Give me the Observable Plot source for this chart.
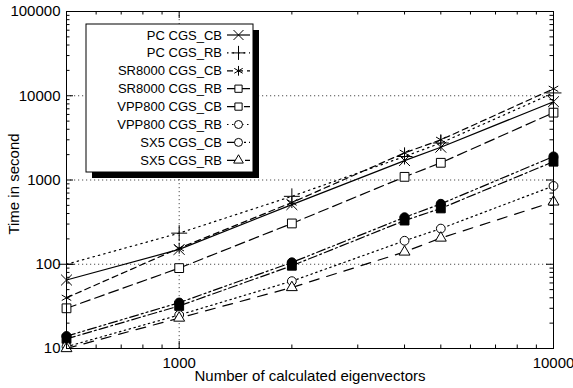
<!DOCTYPE html>
<html><head><meta charset="utf-8">
<script src="https://cdn.jsdelivr.net/npm/d3@7"></script>
<script src="https://cdn.jsdelivr.net/npm/@observablehq/plot@0.6"></script>
<style>body{margin:0;background:#fff;} #chart{width:573px;height:388px;}</style>
</head><body><div id="chart"></div>
<script>
// ---- data ----
const sizes = [500, 1000, 2000, 4000, 5000, 10000];
const seriesNames = ["PC CGS_CB","PC CGS_RB","SR8000 CGS_CB","SR8000 CGS_RB","VPP800 CGS_CB","VPP800 CGS_RB","SX5 CGS_CB","SX5 CGS_RB"];
const pcCB     = [65, 150, 510, 1700, 2450, 8500];
const pcRB     = [100, 234, 640, 1900, 2750, 10800];
const sr8000CB = [40, 155, 540, 2100, 3000, 12100];
const sr8000RB = [30, 90, 305, 1090, 1600, 6300];
const vpp800CB = [13, 32, 96, 330, 460, 1650];
const vpp800RB = [10.5, 25, 63, 190, 265, 850];
const sx5CB    = [14, 35, 105, 360, 520, 1900];
const sx5RB    = [10, 23, 53, 140, 205, 550];
const xTickLabels = [1000, 10000];
const yTickLabels = [10, 100, 1000, 10000, 100000];

const seriesValues = [pcCB, pcRB, sr8000CB, sr8000RB, vpp800CB, vpp800RB, sx5CB, sx5RB];
// ---- styles ----
const styles = [
  {symbol:"times",    fill:"none", dash:null, r:5},
  {symbol:"plus",     fill:"none", dash:"1.5,4", r:5.2},
  {symbol:"asterisk", fill:"none", dash:"6,4", r:5.2},
  {symbol:"square2",  fill:"white", dash:"10,5", r:5.6},
  {symbol:"square",   fill:"black", dash:"9,3,2,3", r:5},
  {symbol:"circle",   fill:"white", dash:"1.5,3.5", r:4.4},
  {symbol:"circle",   fill:"black", dash:"9,3,2,3,2,3", r:4.6},
  {symbol:"triangle2",fill:"white", dash:"10,8", r:5.2}
];
const legendSymbols = ["times","plus","asterisk","square2","square2","circle","circle","triangle2"];

const W = 573, H = 388, mL = 66, mR = 20, mT = 11, mB = 40;
const innerW = W - mL - mR, innerH = H - mT - mB;

const decades = [10, 100, 1000, 10000];
const yMinor = decades.flatMap(d => [2,3,4,5,6,7,8,9].map(k => k*d));
const xMinor = [600,700,800,900,2000,3000,4000,5000,6000,7000,8000,9000];
const xMajor = xTickLabels;
const yMajor = yTickLabels;

const marks = [];
// grid
marks.push(Plot.ruleY(yMajor.slice(1,4), {stroke:"black", strokeWidth:0.7, strokeDasharray:"1.2,2.8"}));
marks.push(Plot.ruleX([1000], {stroke:"black", strokeWidth:0.7, strokeDasharray:"1.2,2.8"}));
// ticks (inward, all sides)
const MJ = 7, MN = 3.5;
for (const [arr, len] of [[xMajor, MJ], [xMinor, MN]]) {
  marks.push(Plot.ruleX(arr, {x:d=>d, insetTop: innerH - len, stroke:"black", strokeWidth:1}));
  marks.push(Plot.ruleX(arr, {x:d=>d, insetBottom: innerH - len, stroke:"black", strokeWidth:1}));
}
for (const [arr, len] of [[yMajor, MJ], [yMinor, MN]]) {
  marks.push(Plot.ruleY(arr, {y:d=>d, insetRight: innerW - len, stroke:"black", strokeWidth:1}));
  marks.push(Plot.ruleY(arr, {y:d=>d, insetLeft: innerW - len, stroke:"black", strokeWidth:1}));
}
// series
seriesNames.forEach((name, i) => {
  const data = sizes.map((s, j) => ({x:s, y:seriesValues[i][j]}));
  const st = styles[i];
  marks.push(Plot.line(data, {x:"x", y:"y", stroke:"black", strokeWidth:1.2, strokeDasharray: st.dash}));
});
seriesNames.forEach((name, i) => {
  const data = sizes.map((s, j) => ({x:s, y:seriesValues[i][j]}));
  const st = styles[i];
  marks.push(Plot.dot(data, {x:"x", y:"y", symbol: st.symbol, r: st.r,
    stroke: "black", strokeWidth: 1, fill: st.fill}));
});
marks.push(Plot.frame({stroke:"black", strokeWidth:1}));
// axes labels
marks.push(Plot.axisY(yTickLabels, {anchor:"left", tickSize:0, tickPadding:6, tickFormat:d=>String(d), fontSize:15, label:null}));
marks.push(Plot.axisX(xTickLabels, {anchor:"bottom", tickSize:0, tickPadding:9, tickFormat:d=>String(d), fontSize:15, label:null}));
marks.push(Plot.text(["Number of calculated eigenvectors"], {frameAnchor:"bottom", dy:32, fontSize:15, fill:"black"}));
marks.push(Plot.text(["Time in second"], {frameAnchor:"left", textAnchor:"middle", dx:-52, dy:4, rotate:-90, fontSize:15, fill:"black"}));

const chart = Plot.plot({
  width: W, height: H,
  marginLeft: mL, marginRight: mR, marginTop: mT, marginBottom: mB,
  style: {fontFamily: "'Liberation Sans', Arial, Helvetica, sans-serif", fontSize: "15px", color:"black", background:"white"},
  x: {type:"log", domain:[500, 10000]},
  y: {type:"log", domain:[10, 100000]},
  marks
});
document.getElementById("chart").appendChild(chart);

// ---- legend ----
const svg = d3.select(chart);
const g = svg.append("g").attr("font-family","'Liberation Sans', Arial, sans-serif").attr("font-size",13);
const bx = 86, by = 24, bw = 167, bh = 148, sh = 6;
g.append("rect").attr("x",bx+sh).attr("y",by+sh).attr("width",bw).attr("height",bh).attr("fill","black");
g.append("rect").attr("x",bx).attr("y",by).attr("width",bw).attr("height",bh).attr("fill","white").attr("stroke","black");
const rowH = 17.9, y0 = by + 11;
const symMap = {times:d3.symbolTimes, plus:d3.symbolPlus, asterisk:d3.symbolAsterisk, square2:d3.symbolSquare2, circle:d3.symbolCircle, triangle2:d3.symbolTriangle2};
seriesNames.forEach((name, i) => {
  const yy = y0 + i*rowH;
  g.append("text").attr("x",222).attr("y",yy).attr("dy","0.35em").attr("text-anchor","end").attr("fill","black").text(name);
  g.append("line").attr("x1",227).attr("x2",250).attr("y1",yy).attr("y2",yy).attr("stroke","black").attr("stroke-width",1.2)
    .attr("stroke-dasharray", styles[i].dash);
  const symName = legendSymbols[i];
  const r = symName==="circle"?4:4.6;
  g.append("path").attr("transform",`translate(238.5,${yy})`).attr("d", d3.symbol(symMap[symName], Math.PI*r*r)())
    .attr("fill", ["times","plus","asterisk"].includes(symName)?"none":"white").attr("stroke","black").attr("stroke-width",1);
});
</script></body></html>
